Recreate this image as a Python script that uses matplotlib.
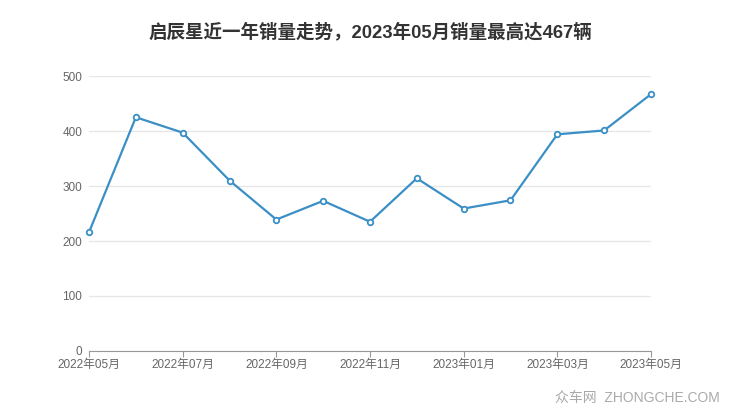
import matplotlib.pyplot as plt

plt.rcParams['font.family'] = ['Liberation Sans', 'Noto Sans CJK SC', 'DejaVu Sans']

# Monthly sales, 2022-05 .. 2023-05
months = ['2022年05月', '2022年06月', '2022年07月', '2022年08月', '2022年09月',
          '2022年10月', '2022年11月', '2022年12月', '2023年01月', '2023年02月',
          '2023年03月', '2023年04月', '2023年05月']
sales = [216, 425, 397, 310, 239, 273, 235, 314, 259, 274, 394, 401, 467]
y_ticks = [0, 100, 200, 300, 400, 500]

fig = plt.figure(figsize=(7.4, 4.17), dpi=100)
ax = fig.add_axes([0.1203, 0.1583, 0.7594, 0.6594])

x = list(range(len(months)))
ax.plot(x, sales, color='#3a8fc6', linewidth=1.6, marker='o', markersize=4,
        markerfacecolor='white', markeredgecolor='#3a8fc6', markeredgewidth=1.3,
        clip_on=False, zorder=3)

ax.set_xlim(0, len(months) - 1)
ax.set_ylim(0, 500)
ax.set_yticks(y_ticks)
ax.set_xticks(x[::2])
ax.set_xticklabels(months[::2])

ax.grid(axis='y', color='#e6e6e6', linewidth=0.9)
ax.set_axisbelow(True)
for side in ['top', 'right', 'left']:
    ax.spines[side].set_visible(False)
ax.spines['bottom'].set_color('#999999')
ax.tick_params(axis='y', length=0, labelsize=8.5, colors='#666666', pad=5)
ax.tick_params(axis='x', length=4, labelsize=8.5, colors='#666666', color='#999999', pad=2)

fig.text(0.5, 0.923, '启辰星近一年销量走势，2023年05月销量最高达467辆',
         ha='center', va='center', fontsize=13.3, fontweight='bold', color='#333333')
fig.text(0.973, 0.045, '众车网  ZHONGCHE.COM', ha='right', va='center',
         fontsize=10, color='#aaaaaa')

fig.savefig('out.png', dpi=100)
